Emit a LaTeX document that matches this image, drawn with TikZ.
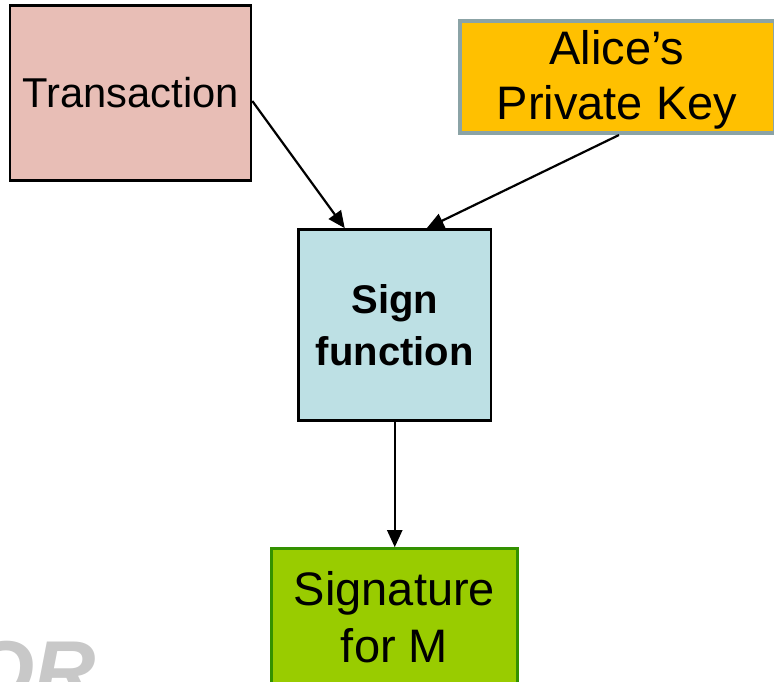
\documentclass[tikz,border=0pt]{standalone}
\usepackage{fontspec}
\setmainfont{Liberation Sans}
\usetikzlibrary{arrows.meta,calc}

\definecolor{txfill}{RGB}{232,190,182}
\definecolor{keyfill}{RGB}{255,192,0}
\definecolor{keyline}{RGB}{139,163,166}
\definecolor{signfill}{RGB}{189,224,228}
\definecolor{sigfill}{RGB}{153,204,0}
\definecolor{sigline}{RGB}{51,145,0}
\definecolor{markgray}{RGB}{200,200,200}

\tikzset{
  box/.style={rectangle, draw=black, line width=2.6pt, align=center, inner sep=0pt},
  flow/.style={line width=2.2pt, -{Triangle[length=17pt,width=15pt]}}
}

\begin{document}
\begin{tikzpicture}[x=1pt,y=-1pt]
  \useasboundingbox (0,0) rectangle (774,682);
  \clip (0,0) rectangle (774,682);

  % input boxes
  \node[box, fill=txfill, minimum width=241pt, minimum height=175.5pt,
        font=\fontsize{41.7}{48}\selectfont] (trans) at (130.5,93) {Transaction};
  \node[box, fill=keyfill, draw=keyline, line width=4pt, minimum width=315pt, minimum height=112pt,
        label={[align=center, yshift=-3pt, font=\fontsize{47}{55}\selectfont]center:Alice’s\\Private Key}]
        (key) at (617,77) {};

  % signing step
  \node[box, fill=signfill, minimum width=192.5pt, minimum height=191pt,
        font=\fontsize{40}{52}\selectfont\bfseries] (sign) at (394.75,325) {Sign\\function};

  % output
  \node[box, fill=sigfill, draw=sigline, minimum width=246pt, minimum height=137.5pt,
        font=\fontsize{47}{57}\selectfont] (sig) at (394.5,617.25) {Signature\\for M};

  % watermark
  \node[text=markgray, anchor=base east, inner sep=0pt,
        font=\fontsize{85}{85}\selectfont\bfseries\itshape] (mark) at (96,700) {OR};

  % connectors
  \draw[flow] ([yshift=-8pt]trans.east) -- ([xshift=-50pt]sign.north);
  \draw[flow] ([xshift=2pt]key.south) -- ([xshift=32pt]sign.north);
  \draw[flow] (sign.south) -- (sign.south |- sig.north);
\end{tikzpicture}
\end{document}
